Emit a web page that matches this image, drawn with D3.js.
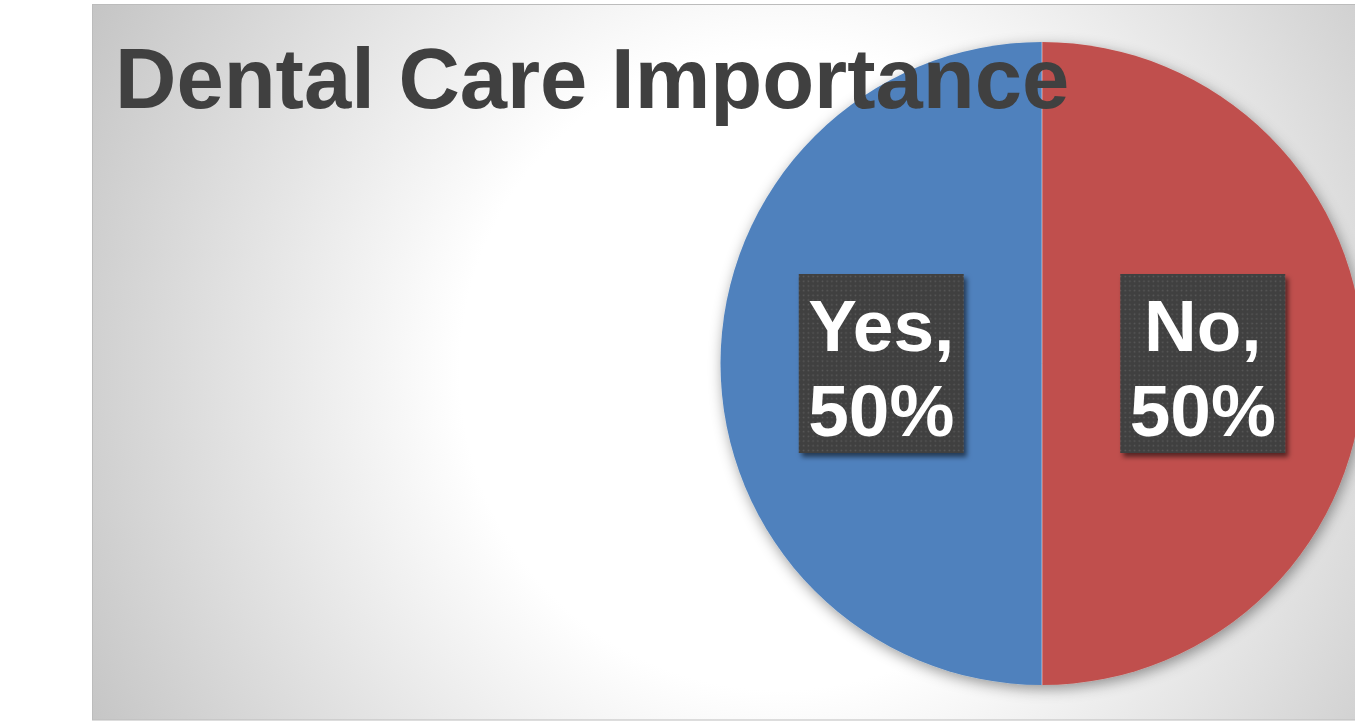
<!DOCTYPE html>
<html>
<head>
<meta charset="utf-8">
<script src="https://cdn.jsdelivr.net/npm/d3@7"></script>
<style>
  html, body { margin: 0; padding: 0; background: #ffffff; }
  svg { display: block; }
</style>
</head>
<body>
<svg id="chart" width="1355" height="721"></svg>
<script>
// Survey answers: share of respondents
const categories = ["No", "Yes"];
const values = [50, 50];
const colors = ["#c0504d", "#4f81bd"];
const title = "Dental Care Importance";

const svg = d3.select("#chart");

const defs = svg.append("defs");

// chart-area background: white centre fading to grey
const bg = defs.append("radialGradient")
  .attr("id", "bgGrad")
  .attr("gradientUnits", "userSpaceOnUse")
  .attr("cx", 780).attr("cy", 370).attr("r", 800);
bg.append("stop").attr("offset", "0").attr("stop-color", "#ffffff");
bg.append("stop").attr("offset", "0.40").attr("stop-color", "#ffffff");
bg.append("stop").attr("offset", "1").attr("stop-color", "#c2c2c2");

// soft shadow under the pie
const pieShadow = defs.append("filter").attr("id", "pieShadow")
  .attr("x", "-20%").attr("y", "-20%").attr("width", "140%").attr("height", "140%");
pieShadow.append("feDropShadow")
  .attr("dx", 2).attr("dy", 4).attr("stdDeviation", 7)
  .attr("flood-color", "#000").attr("flood-opacity", 0.4);

// shadow behind the label boxes
const boxShadow = defs.append("filter").attr("id", "boxShadow")
  .attr("x", "-20%").attr("y", "-20%").attr("width", "140%").attr("height", "140%");
boxShadow.append("feDropShadow")
  .attr("dx", 3).attr("dy", 4).attr("stdDeviation", 2.5)
  .attr("flood-color", "#000").attr("flood-opacity", 0.55);

// dotted fill for the label boxes
const dots = defs.append("pattern").attr("id", "dots")
  .attr("patternUnits", "userSpaceOnUse")
  .attr("width", 4.7).attr("height", 4.7);
dots.append("rect").attr("width", 4.7).attr("height", 4.7).attr("fill", "#404040");
dots.append("rect").attr("x", 1.6).attr("y", 1.6).attr("width", 1.5).attr("height", 1.5)
  .attr("fill", "#5a5a5a");

// chart area
const area = { x: 92, y: 4, w: 1400, h: 715.5 };
svg.append("rect")
  .attr("x", area.x + 0.5).attr("y", area.y + 0.5)
  .attr("width", area.w).attr("height", area.h)
  .attr("fill", "url(#bgGrad)")
  .attr("stroke", "#bcbcbc").attr("stroke-width", 1);

// pie
const cx = 1042, cy = 363.5, r = 321.5;
const pie = d3.pie().sort(null).value(d => d.value);
const data = categories.map((c, i) => ({ category: c, value: values[i], color: colors[i] }));
const arcs = pie(data);
const arc = d3.arc().innerRadius(0).outerRadius(r);
const labelArc = d3.arc().innerRadius(0).outerRadius(r);

const g = svg.append("g").attr("transform", `translate(${cx},${cy})`);
g.append("g").attr("filter", "url(#pieShadow)")
  .selectAll("path").data(arcs).join("path")
  .attr("d", arc)
  .attr("fill", d => d.data.color);

// thin light separators along slice boundaries
g.append("g").selectAll("line").data(arcs).join("line")
  .attr("x1", 0).attr("y1", 0)
  .attr("x2", d => r * Math.sin(d.startAngle))
  .attr("y2", d => -r * Math.cos(d.startAngle))
  .attr("stroke", "rgba(255,255,255,0.5)")
  .attr("stroke-width", 1);

// data labels
const total = d3.sum(values);
const fmt = d3.format(".0%");
const boxW = 165, boxH = 179;
const labels = g.selectAll("g.label").data(arcs).join("g")
  .attr("class", "label")
  .attr("transform", d => {
    const [x, y] = labelArc.centroid(d);
    return `translate(${x},${y})`;
  });
labels.append("rect")
  .attr("x", -boxW / 2).attr("y", -boxH / 2)
  .attr("width", boxW).attr("height", boxH)
  .attr("fill", "url(#dots)")
  .attr("filter", "url(#boxShadow)");
const txt = labels.append("text")
  .attr("text-anchor", "middle")
  .attr("fill", "#ffffff")
  .attr("font-family", "Liberation Sans, Arial, sans-serif")
  .attr("font-weight", "bold")
  .attr("font-size", 73);
txt.append("tspan").attr("x", 0).attr("y", -13).text(d => d.data.category + ",");
txt.append("tspan").attr("x", 0).attr("y", 72).text(d => fmt(d.data.value / total));

// title
svg.append("text")
  .attr("x", 115).attr("y", 108)
  .attr("fill", "#404040")
  .attr("font-family", "Liberation Sans, Arial, sans-serif")
  .attr("font-weight", "bold")
  .attr("font-size", 85)
  .text(title);
</script>
</body>
</html>
